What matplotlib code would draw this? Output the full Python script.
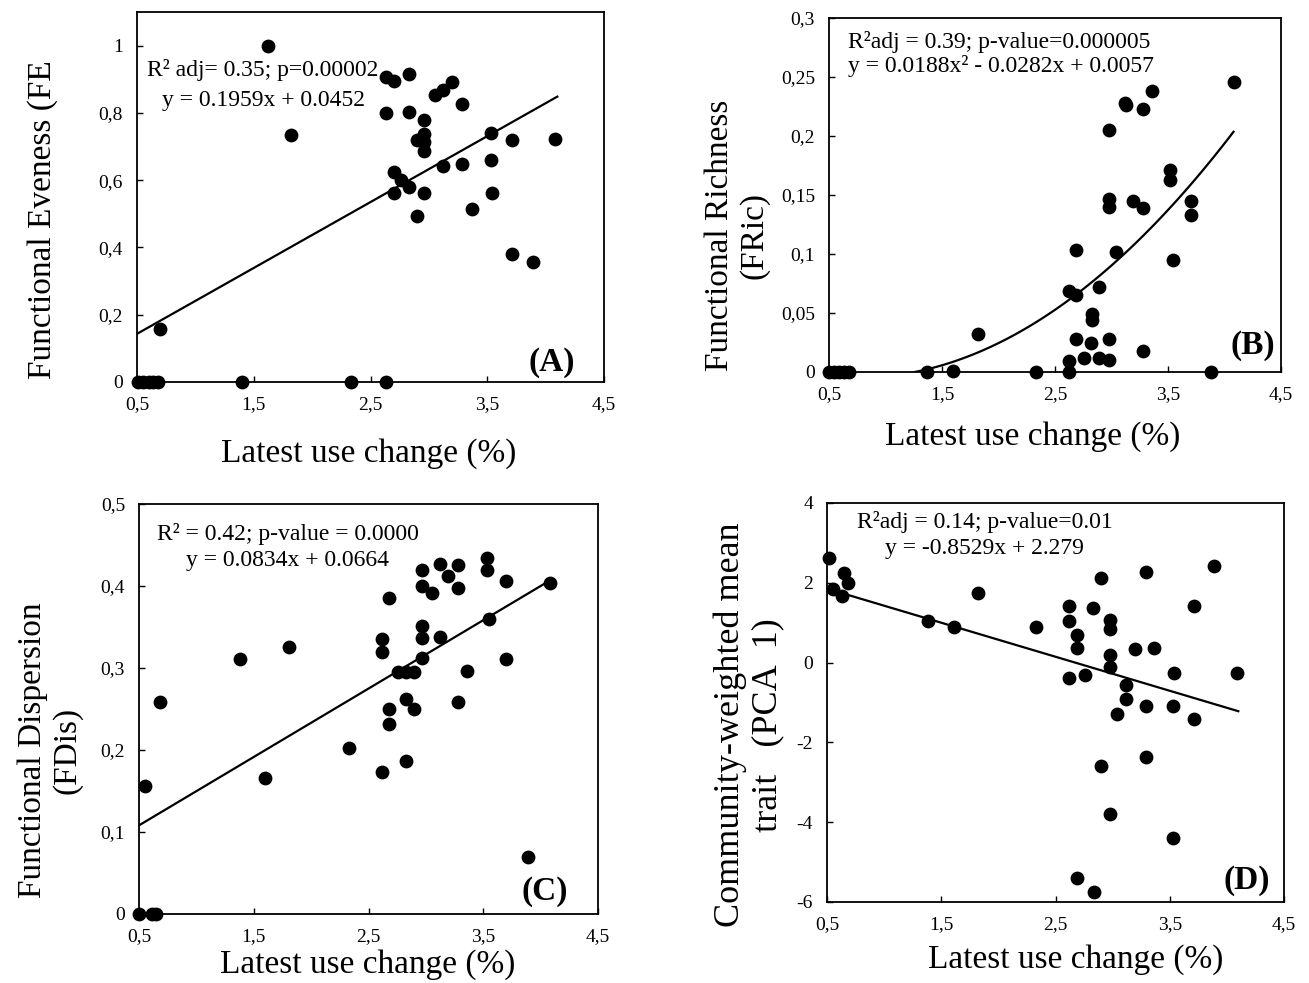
import matplotlib
matplotlib.use("Agg")
import matplotlib.pyplot as plt
import numpy as np

plt.rcParams['font.family'] = ['Liberation Serif', 'DejaVu Serif']

# ---- data ----
x_ticks = [0.5, 1.5, 2.5, 3.5, 4.5]
x_ticklabels = ["0,5", "1,5", "2,5", "3,5", "4,5"]

# (A) Functional Eveness
fe_x = [0.51, 0.55, 0.60, 0.64, 0.68, 0.695, 1.40, 1.62, 1.82, 2.33, 2.63, 2.63, 2.70,
        2.63, 2.70, 2.70, 2.76, 2.83, 2.83, 2.83, 2.90, 2.90, 2.96, 2.96, 2.96, 2.96,
        2.96, 3.05, 3.12, 3.12, 3.20, 3.28, 3.28, 3.37, 3.53, 3.53, 3.54, 3.71, 3.71,
        3.89, 4.08]
fe_y = [0, 0, 0, 0, 0, 0.157, 0, 1.0, 0.733, 0, 0, 0.907, 0.895,
        0.80, 0.624, 0.561, 0.602, 0.915, 0.804, 0.581, 0.718, 0.495, 0.778, 0.738, 0.713, 0.686,
        0.561, 0.854, 0.869, 0.641, 0.892, 0.827, 0.648, 0.514, 0.740, 0.660, 0.561, 0.718, 0.380,
        0.356, 0.723]
fe_coef = [0.1959, 0.0452]

# (B) Functional Richness
fric_x = [0.50, 0.545, 0.59, 0.63, 0.68, 1.37, 1.60, 1.82, 2.33, 2.62, 2.62, 2.62,
          2.69, 2.69, 2.69, 2.76, 2.83, 2.83, 2.82, 2.89, 2.89, 2.98, 2.98, 2.98, 2.98,
          2.98, 3.04, 3.12, 3.13, 3.19, 3.28, 3.28, 3.28, 3.36, 3.52, 3.52, 3.54, 3.70,
          3.70, 3.88, 4.08]
fric_y = [0, 0, 0, 0, 0, 0, 0.001, 0.0326, 0, 0, 0.009, 0.069,
          0.103, 0.065, 0.028, 0.012, 0.049, 0.044, 0.025, 0.072, 0.012, 0.205, 0.147, 0.140, 0.028,
          0.010, 0.102, 0.228, 0.226, 0.145, 0.223, 0.139, 0.0175, 0.238, 0.171, 0.163, 0.095, 0.145,
          0.133, 0, 0.246]
fric_coef = [0.0188, -0.0282, 0.0057]

# (C) Functional Dispersion
fdis_x = [0.50, 0.61, 0.645, 0.555, 0.68, 1.38, 1.60, 1.81, 2.33, 2.62, 2.62, 2.62,
          2.68, 2.68, 2.68, 2.76, 2.83, 2.83, 2.83, 2.90, 2.90, 2.97, 2.97, 2.97, 2.97,
          2.97, 3.05, 3.12, 3.12, 3.19, 3.28, 3.28, 3.28, 3.36, 3.53, 3.53, 3.55, 3.70,
          3.70, 3.89, 4.08]
fdis_y = [0, 0, 0, 0.156, 0.259, 0.311, 0.166, 0.326, 0.203, 0.335, 0.320, 0.173,
          0.385, 0.250, 0.232, 0.295, 0.295, 0.262, 0.187, 0.295, 0.250, 0.419, 0.400, 0.351, 0.337,
          0.312, 0.392, 0.427, 0.338, 0.412, 0.426, 0.398, 0.259, 0.296, 0.434, 0.420, 0.360, 0.406,
          0.311, 0.070, 0.404]
fdis_coef = [0.0834, 0.0664]

# (D) Community-weighted mean trait (PCA 1)
cwm_x = [0.52, 0.555, 0.63, 0.65, 0.685, 1.82, 1.38, 1.61, 2.33, 2.62, 2.62, 2.62,
         2.69, 2.69, 2.69, 2.76, 2.83, 2.84, 2.90, 2.90, 2.98, 2.98, 2.98, 2.98, 2.98,
         3.04, 3.12, 3.12, 3.20, 3.29, 3.29, 3.29, 3.36, 3.54, 3.53, 3.53, 3.71, 3.71,
         3.89, 4.09]
cwm_y = [2.63, 1.84, 1.66, 2.24, 1.99, 1.75, 1.05, 0.90, 0.90, 1.41, 1.05, -0.39,
         0.70, 0.37, -5.39, -0.30, 1.37, -5.76, 2.11, -2.58, 1.07, 0.85, 0.19, -0.12, -3.80,
         -1.29, -0.55, -0.92, 0.33, 2.26, -1.08, -2.37, 0.37, -0.27, -1.08, -4.40, 1.41, -1.42,
         2.43, -0.27]
cwm_coef = [-0.8529, 2.279]

W, H = 1309, 983
fig = plt.figure(figsize=(W / 100, H / 100), dpi=100)


def box(l, r, t, b):
    return [l / W, 1 - b / H, (r - l) / W, (b - t) / H]


def style(ax, yticks, ylabels, ylim):
    ax.set_xlim(0.5, 4.5)
    ax.set_ylim(*ylim)
    ax.set_xticks(x_ticks)
    ax.set_xticklabels(x_ticklabels)
    ax.set_yticks(yticks)
    ax.set_yticklabels(ylabels)
    ax.tick_params(direction="in", length=4, width=1, labelsize=14, pad=10)
    for s in ax.spines.values():
        s.set_linewidth(1.3)


def dots(ax, x, y):
    ax.scatter(x, y, s=80, color="black", zorder=3, clip_on=False)


# ---- (A)
ax = fig.add_axes(box(137, 604, 12, 382))
dots(ax, fe_x, fe_y)
xx = np.linspace(0.5, 4.1, 50)
ax.plot(xx, np.polyval(fe_coef, xx), color="black", lw=1.6)
style(ax, [0, 0.2, 0.4, 0.6, 0.8, 1.0], ["0", "0,2", "0,4", "0,6", "0,8", "1"], (0, 1.1))
ax.text(0.021, 0.843, "R² adj= 0.35; p=0.00002", transform=ax.transAxes, fontsize=17, va="center")
ax.text(0.054, 0.762, "y = 0.1959x + 0.0452", transform=ax.transAxes, fontsize=17, va="center")
ax.text(0.938, 0.054, "(A)", transform=ax.transAxes, fontsize=24, fontweight="bold", ha="right", va="center")
ax.set_xlabel("Latest use change (%)", fontsize=24)
ax.xaxis.set_label_coords(0.497, -0.151)
ax.set_ylabel("Functional Eveness (FE", fontsize=24, va="center")
ax.yaxis.set_label_coords(-0.203, 0.44)

# ---- (B)
ax = fig.add_axes(box(829, 1281, 18, 372))
dots(ax, fric_x, fric_y)
xx = np.linspace(1.26, 4.08, 80)
ax.plot(xx, np.polyval(fric_coef, xx), color="black", lw=1.6)
style(ax, [0, 0.05, 0.1, 0.15, 0.2, 0.25, 0.3],
      ["0", "0,05", "0,1", "0,15", "0,2", "0,25", "0,3"], (0, 0.3))
ax.text(0.042, 0.932, "R²adj = 0.39; p-value=0.000005", transform=ax.transAxes, fontsize=17, va="center")
ax.text(0.042, 0.864, "y = 0.0188x² - 0.0282x + 0.0057", transform=ax.transAxes, fontsize=17, va="center")
ax.text(0.987, 0.076, "(B)", transform=ax.transAxes, fontsize=24, fontweight="bold", ha="right", va="center")
ax.set_xlabel("Latest use change (%)", fontsize=24)
ax.xaxis.set_label_coords(0.451, -0.138)
ax.set_ylabel("Functional Richness\n(FRic)", fontsize=24, va="center", linespacing=1.15)
ax.yaxis.set_label_coords(-0.204, 0.387)

# ---- (C)
ax = fig.add_axes(box(139, 598, 504, 914))
dots(ax, fdis_x, fdis_y)
xx = np.linspace(0.5, 4.1, 50)
ax.plot(xx, np.polyval(fdis_coef, xx), color="black", lw=1.6)
style(ax, [0, 0.1, 0.2, 0.3, 0.4, 0.5], ["0", "0,1", "0,2", "0,3", "0,4", "0,5"], (0, 0.5))
ax.text(0.039, 0.927, "R² = 0.42; p-value = 0.0000", transform=ax.transAxes, fontsize=17, va="center")
ax.text(0.102, 0.863, "y = 0.0834x + 0.0664", transform=ax.transAxes, fontsize=17, va="center")
ax.text(0.935, 0.054, "(C)", transform=ax.transAxes, fontsize=24, fontweight="bold", ha="right", va="center")
ax.set_xlabel("Latest use change (%)", fontsize=24)
ax.xaxis.set_label_coords(0.499, -0.085)
ax.set_ylabel("Functional Dispersion\n(FDis)", fontsize=24, va="center", linespacing=1.15)
ax.yaxis.set_label_coords(-0.194, 0.40)

# ---- (D)
ax = fig.add_axes(box(827, 1284, 503, 902))
dots(ax, cwm_x, cwm_y)
xx = np.linspace(0.5, 4.1, 50)
ax.plot(xx, np.polyval(cwm_coef, xx), color="black", lw=1.6)
style(ax, [-6, -4, -2, 0, 2, 4], ["-6", "-4", "-2", "0", "2", "4"], (-6, 4))
ax.text(0.066, 0.952, "R²adj = 0.14; p-value=0.01", transform=ax.transAxes, fontsize=17, va="center")
ax.text(0.127, 0.885, "y = -0.8529x + 2.279", transform=ax.transAxes, fontsize=17, va="center")
ax.text(0.969, 0.055, "(D)", transform=ax.transAxes, fontsize=24, fontweight="bold", ha="right", va="center")
ax.set_xlabel("Latest use change (%)", fontsize=24)
ax.xaxis.set_label_coords(0.545, -0.107)
ax.set_ylabel("Community-weighted mean\ntrait   (PCA  1)", fontsize=26, va="center", linespacing=1.15)
ax.yaxis.set_label_coords(-0.171, 0.444)

fig.savefig("out.png", dpi=100, facecolor="white")
